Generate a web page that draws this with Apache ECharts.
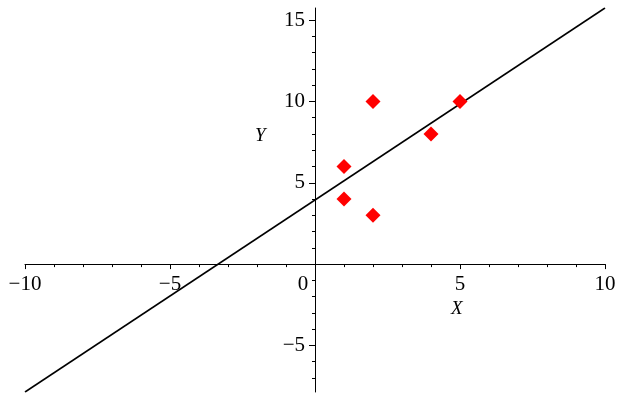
<!DOCTYPE html>
<html><head><meta charset="utf-8">
<script src="https://cdn.jsdelivr.net/npm/echarts@6/dist/echarts.min.js"></script>
<style>html,body{margin:0;padding:0;background:#fff}#c{width:624px;height:400px}</style>
</head><body><div id="c"></div>
<script>
var pointsX = [1, 1, 2, 2, 4, 5];
var pointsY = [4, 6, 3, 10, 8, 10];
var lineX = [-10, 10];
var lineY = [-7.86, 15.74];
var xTickLabels = [-10, -5, 0, 5, 10];
var yTickLabels = [-5, 5, 10, 15];
var yMajorTicks = [-5, 0, 5, 10, 15];
var yMinorTicks = [-7, -6, -4, -3, -2, -1, 1, 2, 3, 4, 6, 7, 8, 9, 11, 12, 13, 14];
var xRange = [-10, 10];
var yRange = [-7.86, 15.74];

function fmt(v) { return v < 0 ? '\u2212' + Math.abs(v) : String(v); }

var chart = echarts.init(document.getElementById('c'), null, {renderer: 'canvas'});
var font = 'Liberation Serif';
// grid geometry (styling): axes are shifted to cross at the origin
var G = {left: 25, right: 19, top: 8, bottom: 8};
var gw = 624 - G.left - G.right, gh = 400 - G.top - G.bottom;
var xZeroOffset = -(0 - xRange[0]) / (xRange[1] - xRange[0]) * gw;
var yZeroOffset = -(0 - yRange[0]) / (yRange[1] - yRange[0]) * gh;
chart.setOption({
  animation: false,
  grid: {left: G.left, right: G.right, top: G.top, bottom: G.bottom, containLabel: false, outerBoundsMode: 'none'},
  xAxis: {
    type: 'value', min: xRange[0], max: xRange[1], interval: 5, position: 'bottom', offset: yZeroOffset,
    axisLine: {onZero: false, lineStyle: {color: '#000', width: 1}},
    axisTick: {show: true, inside: false, length: 5, lineStyle: {color: '#000'}},
    minorTick: {show: true, splitNumber: 5, length: 3, lineStyle: {color: '#000'}},
    splitLine: {show: false},
    axisLabel: {
      customValues: xTickLabels, hideOverlap: false,
      margin: 10, color: '#000', fontFamily: font, fontSize: 21,
      formatter: function (v) { return v === 0 ? '{z|0}' : fmt(v); },
      rich: {z: {padding: [0, 24, 0, 0], fontFamily: font, fontSize: 21, color: '#000'}}
    }
  },
  yAxis: [{
    type: 'value', min: yRange[0], max: yRange[1], position: 'left', offset: xZeroOffset,
    axisLine: {onZero: false, lineStyle: {color: '#000', width: 1}},
    axisTick: {show: true, customValues: yMajorTicks, length: 6, lineStyle: {color: '#000'}},
    splitLine: {show: false},
    axisLabel: {customValues: yTickLabels, margin: 10, color: '#000', fontFamily: font, fontSize: 21, formatter: fmt}
  }, {
    type: 'value', min: yRange[0], max: yRange[1], position: 'left', offset: xZeroOffset,
    axisLine: {show: false, onZero: false},
    axisTick: {show: true, customValues: yMinorTicks, length: 3, lineStyle: {color: '#000'}},
    splitLine: {show: false},
    axisLabel: {show: false}
  }],
  series: [{
    type: 'line', data: lineX.map(function (x, i) { return [x, lineY[i]]; }),
    showSymbol: false, symbol: 'none', lineStyle: {color: '#000', width: 1.5}, z: 3
  }, {
    type: 'scatter', data: pointsX.map(function (x, i) { return [x, pointsY[i]]; }),
    symbol: 'diamond', symbolSize: 15, itemStyle: {color: '#ff0000', opacity: 1}, z: 4
  }],
  graphic: [
    {type: 'text', left: 255, top: 126, style: {text: 'Y', font: 'italic 19px "Liberation Serif"', fill: '#000'}},
    {type: 'text', left: 451, top: 299, style: {text: 'X', font: 'italic 19px "Liberation Serif"', fill: '#000'}}
  ]
});
</script></body></html>
